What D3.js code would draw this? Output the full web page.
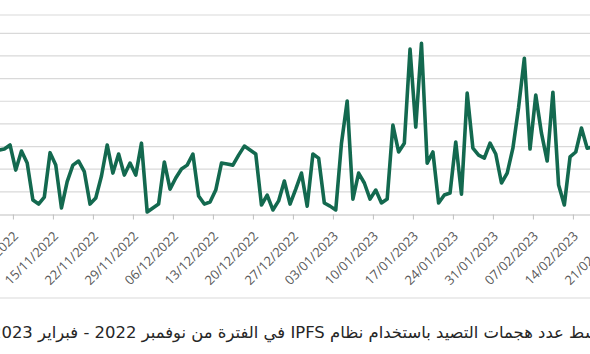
<!DOCTYPE html>
<html>
<head>
<meta charset="utf-8">
<script src="https://cdn.jsdelivr.net/npm/d3@7"></script>
<style>
  body { margin: 0; background: #ffffff; }
  svg { display: block; }
</style>
</head>
<body>
<div id="canvas"></div>
<script>
"use strict"

// canvas size (the picture is a crop of a wider chart)
let svgWidth = 590;
let svgHeight = 354;

let axisY = 214.5;   // bottom of plot area
let gridTop = 33.3;  // highest labelled grid line

// DATA

let startDay = "2022-11-05"; // first (partly visible) day of the series

// daily average number of IPFS phishing attacks
let attacks = [
    28.4, 28.9, 30.7, 19.6, 28.0, 22.7, 6.4, 4.6, 7.7, 27.3,
    21.8, 2.9, 14.5, 21.8, 23.6, 18.9, 4.6, 7.3, 17.0, 30.7,
    18.3, 26.7, 17.4, 22.7, 17.4, 31.5, 1.1, 2.9, 4.6, 23.2,
    11.2, 16.1, 20.1, 21.8, 26.7, 8.2, 4.6, 5.5, 10.8, 22.7,
    22.3, 21.8, 26.2, 30.2, 28.5, 26.7, 4.2, 8.6, 2.0, 6.0,
    14.8, 4.6, 11.2, 18.3, 3.7, 26.7, 24.9, 5.1, 3.7, 2.0,
    31.5, 50.1, 6.8, 18.3, 13.9, 6.8, 10.8, 5.1, 6.8, 39.5,
    27.6, 31.5, 73.0, 38.6, 75.6, 22.7, 27.6, 5.1, 8.6, 9.5,
    32.0, 9.0, 53.6, 29.3, 26.2, 24.9, 31.5, 26.7, 13.9, 18.3,
    29.3, 47.4, 69.0, 28.9, 52.7, 35.9, 23.6, 54.0, 13.0, 4.2,
    25.4, 27.6, 38.2, 29.3, 29.8
];

// weekly tick labels
let tickLabels = [
    "08/11/2022", "15/11/2022", "22/11/2022", "29/11/2022", "06/12/2022",
    "13/12/2022", "20/12/2022", "27/12/2022", "03/01/2023", "10/01/2023",
    "17/01/2023", "24/01/2023", "31/01/2023", "07/02/2023", "14/02/2023",
    "21/02/2023"
];

let gridValues = [0, 10, 20, 30, 40, 50, 60, 70, 80];

let chartTitle = "متوسط عدد هجمات التصيد باستخدام نظام IPFS في الفترة من نوفمبر 2022 - فبراير 2023";

// turning the strings into dates

let parseTick = d3.utcParse("%d/%m/%Y");
let tickDates = tickLabels.map(function (value) {
    return parseTick(value);
});

let firstDay = d3.utcParse("%Y-%m-%d")(startDay);
let data = attacks.map(function (value, i) {
    return {
        date: d3.utcHour.offset(d3.utcDay.offset(firstDay, i), 12), // points sit in the middle of each day
        value: value
    }
});

// SCALES

let xScale = d3.scaleUtc()
    .domain([tickDates[0], tickDates[tickDates.length - 1]])
    .range([12.9, 612.9]);

let yScale = d3.scaleLinear()
    .domain([0, 80])
    .range([axisY, gridTop]);

// CANVAS

let svg = d3.select("#canvas")
    .append("svg")
    .attr("width", svgWidth)
    .attr("height", svgHeight);

svg.append("rect")
    .attr("width", svgWidth)
    .attr("height", svgHeight)
    .attr("fill", "#ffffff");

// GRID LINES

svg.append("line")
    .attr("x1", 0)
    .attr("x2", svgWidth)
    .attr("y1", 15)
    .attr("y2", 15)
    .attr("stroke", "#d9d9d9")
    .attr("stroke-width", 1.2);

svg.selectAll(".grid")
    .data(gridValues.slice(1))
    .join("line")
    .attr("class", "grid")
    .attr("x1", 0)
    .attr("x2", svgWidth)
    .attr("y1", function (value) { return yScale(value); })
    .attr("y2", function (value) { return yScale(value); })
    .attr("stroke", "#d9d9d9")
    .attr("stroke-width", 1.2);

// X AXIS

let xAxis = d3.axisBottom(xScale)
    .tickValues(tickDates)
    .tickSize(5)
    .tickFormat(d3.utcFormat("%d/%m/%Y"));

let axisGroup = svg.append("g")
    .attr("transform", "translate(0," + axisY + ")")
    .call(xAxis);

axisGroup.select(".domain")
    .attr("stroke", "#bfbfbf")
    .attr("stroke-width", 1.2)
    .attr("d", "M0,0.5H" + svgWidth);

axisGroup.selectAll(".tick line")
    .attr("stroke", "#bfbfbf");

axisGroup.selectAll(".tick text")
    .attr("fill", "#595959")
    .style("font-family", "'Open Sans', 'DejaVu Sans', sans-serif")
    .style("font-size", "13px")
    .attr("text-anchor", "end")
    .attr("dominant-baseline", "central")
    .attr("y", 0)
    .attr("dy", 0)
    .attr("transform", "translate(2,19) rotate(-45)");

// THE LINE

let line = d3.line()
    .x(function (value) { return xScale(value.date); })
    .y(function (value) { return yScale(value.value); });

svg.append("path")
    .datum(data)
    .attr("fill", "none")
    .attr("stroke", "#13694f")
    .attr("stroke-width", 3.6)
    .attr("stroke-linejoin", "round")
    .attr("d", line);

// BOTTOM BORDER AND TITLE

svg.append("line")
    .attr("x1", 0)
    .attr("x2", svgWidth)
    .attr("y1", 298)
    .attr("y2", 298)
    .attr("stroke", "#d9d9d9")
    .attr("stroke-width", 1.2);

let titleSize = 17.6;

let title = svg.append("text")
    .attr("x", svgWidth / 2)
    .attr("y", 338)
    .attr("direction", "rtl")
    .attr("text-anchor", "middle")
    .attr("fill", "#262626")
    .style("font-family", "'Segoe UI', 'DejaVu Sans', sans-serif")
    .style("font-size", titleSize + "px")
    .text(chartTitle);

// the title runs past both edges in the original: about 630px wide,
// starting 9px left of the picture
let box = title.node().getBBox();
title.style("font-size", (titleSize * 630 / box.width) + "px");
box = title.node().getBBox();
title.attr("x", svgWidth / 2 - box.x - 9);
</script>
</body>
</html>
